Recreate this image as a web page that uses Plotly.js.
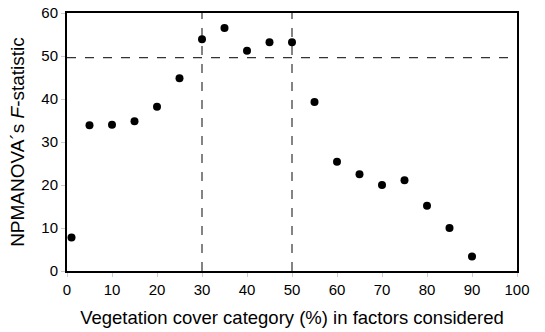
<!DOCTYPE html>
<html>
<head>
<meta charset="utf-8">
<script src="https://cdn.plot.ly/plotly-3.0.1.min.js"></script>
<style>html,body{margin:0;padding:0;background:#fff;}#chart{width:545px;height:332px;}</style>
</head>
<body>
<div id="chart"></div>
<script>
const coverCategory = [1, 5, 10, 15, 20, 25, 30, 35, 40, 45, 50, 55, 60, 65, 70, 75, 80, 85, 90];
const fStatistic = [7.8, 33.9, 34.0, 34.8, 38.2, 44.8, 53.9, 56.5, 51.2, 53.2, 53.2, 39.3, 25.4, 22.5, 20.0, 21.1, 15.2, 10.0, 3.4];
const refVertical = [30, 50];
const refHorizontal = [49.6];
const xTicks = [0, 10, 20, 30, 40, 50, 60, 70, 80, 90, 100];
const yTicks = [0, 10, 20, 30, 40, 50, 60];

const shapes = [];
refVertical.forEach(v => shapes.push({type:'line', xref:'x', yref:'paper', x0:v, x1:v, y0:0, y1:1, line:{color:'#333', width:1.2, dash:'dash'}, layer:'below'}));
refHorizontal.forEach(v => shapes.push({type:'line', xref:'paper', yref:'y', x0:0, x1:1, y0:v, y1:v, line:{color:'#333', width:1.2, dash:'dash'}, layer:'below'}));

const font = {family:'"Liberation Sans", Arial, sans-serif', color:'#000'};
Plotly.newPlot('chart', [{
  x: coverCategory, y: fStatistic, type:'scatter', mode:'markers',
  marker:{color:'#000', size:8}
}], {
  width:545, height:332,
  margin:{l:67, r:28, t:13, b:61},
  paper_bgcolor:'#fff', plot_bgcolor:'#fff',
  showlegend:false,
  font: Object.assign({size:15}, font),
  xaxis:{range:[0,100], tickvals:xTicks, showgrid:false, zeroline:false,
    showline:true, mirror:true, linecolor:'#000', linewidth:2,
    ticks:'outside', ticklen:4, tickcolor:'#ccc', tickwidth:1,
    tickfont:Object.assign({size:15}, font),
    title:{text:'Vegetation cover category (%) in factors considered', font:Object.assign({size:18.5}, font), standoff:14}},
  yaxis:{range:[0,60], tickvals:yTicks, showgrid:false, zeroline:false,
    showline:true, mirror:true, linecolor:'#000', linewidth:2,
    ticks:'outside', ticklen:4, tickcolor:'#ccc', tickwidth:1,
    tickfont:Object.assign({size:15}, font),
    title:{text:'NPMANOVA´s <i>F</i>-statistic', font:Object.assign({size:19}, font), standoff:12}},
  shapes: shapes
}, {displayModeBar:false, staticPlot:true});
</script>
</body>
</html>
